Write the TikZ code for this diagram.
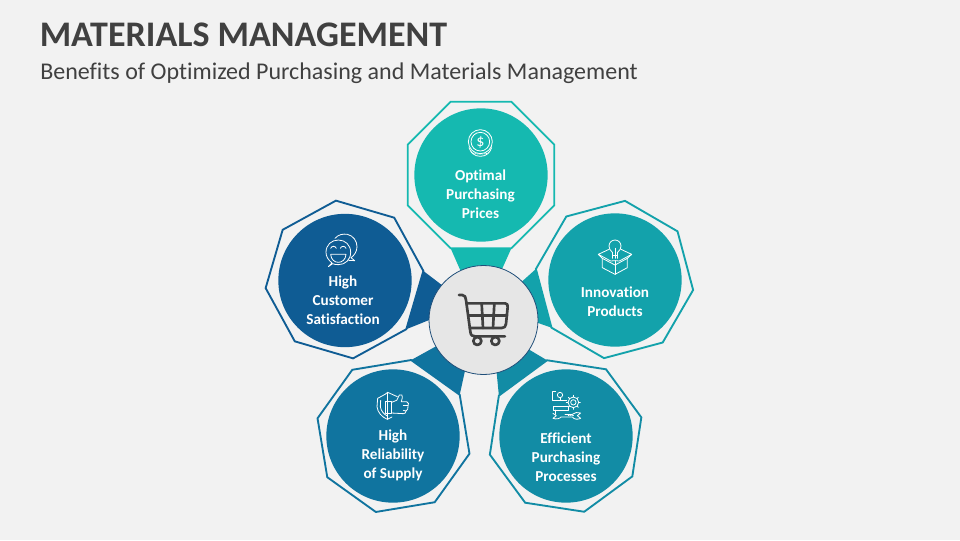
\documentclass[tikz,border=0pt]{standalone}
\usepackage{fontspec}
\setmainfont{Carlito}[Ligatures=NoCommon]
\usetikzlibrary{shapes.geometric,calc}
\definecolor{pagegray}{HTML}{F2F2F2}
\definecolor{titlegray}{HTML}{404040}
\definecolor{hubgray}{HTML}{E6E6E6}
\definecolor{hubline}{HTML}{1F4E79}
\definecolor{tealtop}{HTML}{15B9B0}
\definecolor{tealright}{HTML}{13A2AB}
\definecolor{bluelow}{HTML}{128CA5}
\definecolor{bluemid}{HTML}{10749F}
\definecolor{blueleft}{HTML}{0F5C94}
\tikzset{
  octa/.style={regular polygon,regular polygon sides=8,draw=#1,line width=1.4pt,
    minimum size=119pt,inner sep=0pt,outer sep=0pt},
  disc/.style={circle,fill=#1,minimum size=100pt,inner sep=0pt,outer sep=0pt},
  label/.style={text=white,align=center,font=\fontsize{11.4}{14.2}\selectfont\bfseries},
  icon/.style={draw=white,line width=0.6pt,line join=round,line cap=round},
  carticon/.style={draw=titlegray,line width=2pt,line join=round,line cap=round}
}
\begin{document}
\begin{tikzpicture}[x=0.75pt,y=-0.75pt]
\fill [pagegray] (0,0) rectangle (960,540);
\useasboundingbox (0,0) rectangle (960,540);
% headings
\node (title) [anchor=west,text=titlegray,font=\fontsize{27}{30}\selectfont\bfseries,inner sep=0pt] at (39.5,34.5) {MATERIALS MANAGEMENT};
\node (subtitle) [anchor=west,text=titlegray,font=\fontsize{18}{21}\selectfont,inner sep=0pt] at (40,73) {Benefits of Optimized Purchasing and Materials Management};
% frames
\node (hub) [circle,minimum size=81.5pt,inner sep=0pt,outer sep=0pt] at (483.5,320) {};
\node (octtop) [octa=tealtop] at (481,175) {};
\node (octleft) [octa=blueleft,shape border rotate=-16.3] at (344.5,279.5) {};
\node (octright) [octa=tealright,shape border rotate=-30.1] at (614.5,279.5) {};
\node (octlow) [octa=bluemid,shape border rotate=-35.6,minimum size=117pt] at (393.5,436) {};
\node (octproc) [octa=bluelow,shape border rotate=-8.7,minimum size=117pt] at (565.6,436) {};
% wedges
\fill [tealtop] (octtop.corner 5) -- (octtop.corner 6) -- (hub.70) -- (hub.115) -- cycle;
\fill [blueleft] (octleft.corner 7) -- (octleft.corner 8) -- (hub.140) -- (hub.180) -- cycle;
\fill [tealright] (octright.corner 4) -- (octright.corner 5) -- (hub.-3) -- (hub.45) -- cycle;
\fill [bluemid] (octlow.corner 2) -- (octlow.corner 1) -- (hub.250) -- (hub.209) -- cycle;
\fill [bluelow] (octproc.corner 2) -- (octproc.corner 3) -- (hub.284) -- (hub.327) -- cycle;
\draw [hubline,fill=hubgray,line width=0.6pt] (hub.center) circle [radius=54.5];
% discs
\node (disctop) [disc=tealtop] at (481,175) {};
\node (discleft) [disc=blueleft] at (345,280.5) {};
\node (discright) [disc=tealright] at (615,280) {};
\node (disclow) [disc=bluemid] at (393,436) {};
\node (discproc) [disc=bluelow] at (566,436) {};
% labels
\node (labtop) [label] at (480.5,194) {Optimal\\Purchasing\\Prices};
\node (lableft) [label] at (343,300) {High\\Customer\\Satisfaction};
\node (labright) [label] at (615,302) {Innovation\\Products};
\node (lablow) [label] at (393,455) {High\\Reliability\\of Supply};
\node (labproc) [label] at (566,457) {Efficient\\Purchasing\\Processes};
% cart
\begin{scope}[shift={(425,260)},x=0.25pt,y=-0.25pt]
\draw [carticon] (102,105) -- (112,105) .. controls (120,105) and (122,112) .. (123,120) -- (136,215) .. controls (137,226) and (142,229) .. (150,229) -- (240,229);
\draw [carticon] (126,130) -- (240,130) .. controls (247,130) and (249,135) .. (248,142) -- (243,192) .. controls (242,200) and (238,204) .. (230,204) -- (134,204);
\draw [carticon] (130,167) -- (246,167);
\draw [carticon] (170,130) -- (174,204);
\draw [carticon] (208,130) -- (204,204);
\draw [carticon] (157,243) circle [radius=12];
\draw [carticon] (211,243) circle [radius=12];
\end{scope}
% coin
\begin{scope}[shift={(400,95)},x=0.25pt,y=-0.25pt]
\draw [icon] (241,140) circle [radius=36];
\draw [icon] (241,140) circle [radius=28];
\draw [icon] (207,158) .. controls (212,172) and (222,184) .. (241,184) .. controls (260,184) and (270,172) .. (275,158);
\draw [icon,densely dotted] (214,172) .. controls (222,179) and (260,179) .. (268,172);
\node (coinsign) [text=white,font=\fontsize{12}{12}\selectfont,inner sep=0pt] at (241,141) {\$};
\end{scope}
% faces
\begin{scope}[shift={(260,195)},x=0.25pt,y=-0.25pt]
\draw [icon] (216,204) .. controls (204,194) and (198,184) .. (198,172) .. controls (198,150) and (214,135) .. (235,135) .. controls (256,135) and (272,150) .. (272,172) .. controls (272,194) and (256,209) .. (235,209) .. controls (228,209) and (222,208) .. (218,206) -- (205,215) -- cycle;
\draw [icon] (225,130) .. controls (235,118) and (250,116) .. (262,118) .. controls (280,122) and (291,138) .. (291,155) .. controls (291,170) and (282,182) .. (273,188) -- (284,197) -- (266,196);
\draw [icon] (212,160) .. controls (215,152) and (226,152) .. (229,160);
\draw [icon] (241,160) .. controls (244,152) and (255,152) .. (258,160);
\draw [icon] (212,178) -- (258,178) .. controls (257,194) and (246,202) .. (235,202) .. controls (224,202) and (213,194) .. (212,178) -- cycle;
\end{scope}
% bulb in box
\begin{scope}[shift={(520,195)},x=0.25pt,y=-0.25pt]
\draw [icon] (277,172) .. controls (270,166) and (267,160) .. (267,153) .. controls (267,143) and (275,135) .. (285,135) .. controls (295,135) and (303,143) .. (303,153) .. controls (303,160) and (300,166) .. (293,172);
\draw [icon] (277,172) -- (277,190);
\draw [icon] (293,172) -- (293,190);
\draw [icon] (285,160) -- (285,190);
\draw [icon] (279,180) -- (291,180);
\draw [icon] (247,190) -- (285,210) -- (322,190);
\draw [icon] (247,190) -- (247,218) -- (285,238) -- (322,218) -- (322,190);
\draw [icon] (285,197) -- (285,238);
\draw [icon] (247,190) -- (235,178) -- (267,163);
\draw [icon] (322,190) -- (335,178) -- (303,163);
\draw [icon] (235,178) -- (272,198) -- (285,197) -- (298,198) -- (335,178);
\end{scope}
% shield and thumb
\begin{scope}[shift={(310,345)},x=0.25pt,y=-0.25pt]
\draw [icon] (225,148) -- (203,160) -- (201,185) .. controls (203,202) and (215,216) .. (232,223) -- (246,216);
\draw [icon] (212,166) -- (211,185) .. controls (213,198) and (221,207) .. (232,213);
\draw [icon] (225,148) -- (233,142) -- (262,155);
\draw [icon] (225,170) -- (245,170) -- (245,205) -- (225,205) -- cycle;
\draw [icon] (233,142) -- (233,223);
\draw [icon] (245,172) -- (260,166) -- (268,150) .. controls (275,146) and (279,152) .. (277,158) -- (274,170) -- (290,170) .. controls (296,172) and (297,178) .. (294,182) .. controls (296,190) and (292,196) .. (288,198) .. controls (288,204) and (284,206) .. (280,206) -- (245,204);
\draw [icon] (280,182) -- (294,182);
\draw [icon] (280,196) -- (288,198);
\end{scope}
% gear and wrench
\begin{scope}[shift={(485,345)},x=0.25pt,y=-0.25pt]
\draw [icon] (203,140) -- (203,165) -- (245,165);
\draw [icon] (203,140) -- (212,140);
\draw [icon] (225,150) circle [radius=8];
\draw [icon] (225,158) -- (225,165);
\draw [icon] (265,172) circle [radius=16];
\draw [icon] (265,172) circle [radius=8];
\foreach \a in {0,45,...,315}
  \draw [icon] ($(265,172)+(\a:16)$) -- ($(265,172)+(\a:21)$);
\draw [icon] (205,183) -- (205,195) -- (250,195) -- (250,183) -- cycle;
\draw [icon] (212,195) -- (212,208);
\draw [icon] (240,208) -- (262,208);
\draw [icon] (204,205) -- (214,212) -- (204,220) .. controls (215,224) and (225,220) .. (228,216) -- (262,216) .. controls (268,224) and (278,224) .. (287,220) -- (277,212) -- (287,204) .. controls (278,201) and (268,202) .. (262,208);
\draw [icon,densely dotted] (250,212) -- (268,212);
\end{scope}
\end{tikzpicture}
\end{document}
